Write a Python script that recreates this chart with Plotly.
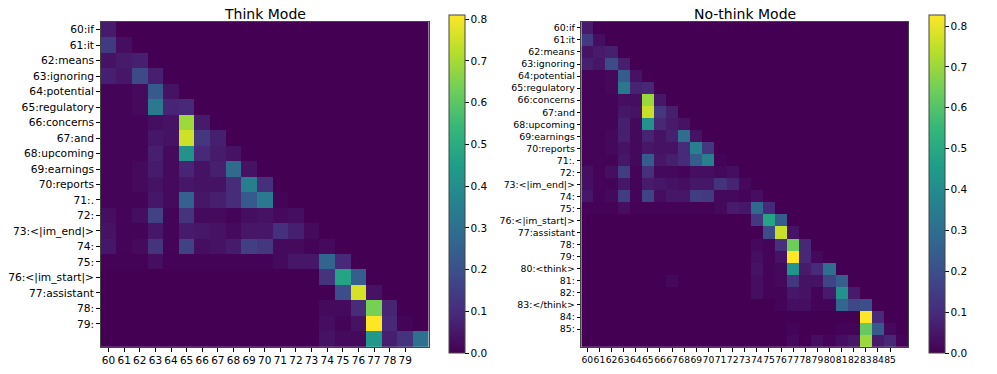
import plotly.graph_objects as go

# token labels on the y axis (query positions)
think_tokens = ["60:if", "61:it", "62:means", "63:ignoring", "64:potential", "65:regulatory",
                "66:concerns", "67:and", "68:upcoming", "69:earnings", "70:reports", "71:.",
                "72:", "73:<|im_end|>", "74:", "75:", "76:<|im_start|>", "77:assistant",
                "78:", "79:"]
nothink_tokens = think_tokens + ["80:<think>", "81:", "82:", "83:</think>", "84:", "85:"]

think_pos = list(range(60, 81))     # 21 positions, last one has no label
nothink_pos = list(range(60, 87))   # 27 positions, last one has no label

# attention weights, row i = positions 60..60+i (lower triangle)
think_rows = [
    [0.06],
    [0.14, 0.03],
    [0.04, 0.06, 0.07],
    [0.07, 0.05, 0.18, 0.07],
    [0.01, 0.01, 0.02, 0.23, 0.04],
    [0.01, 0.01, 0.02, 0.33, 0.08, 0.09],
    [0.01, 0.01, 0.01, 0.03, 0.04, 0.69, 0.06],
    [0.01, 0.01, 0.01, 0.05, 0.04, 0.75, 0.13, 0.07],
    [0.01, 0.01, 0.01, 0.07, 0.02, 0.41, 0.09, 0.06, 0.04],
    [0.01, 0.01, 0.02, 0.06, 0.02, 0.08, 0.04, 0.07, 0.28, 0.04],
    [0.01, 0.01, 0.02, 0.04, 0.02, 0.05, 0.04, 0.04, 0.10, 0.35, 0.11],
    [0.01, 0.01, 0.01, 0.05, 0.02, 0.25, 0.05, 0.07, 0.10, 0.23, 0.33, 0.01],
    [0.03, 0.01, 0.03, 0.16, 0.01, 0.12, 0.02, 0.02, 0.01, 0.03, 0.04, 0.02, 0.03],
    [0.04, 0.01, 0.01, 0.05, 0.01, 0.06, 0.05, 0.04, 0.02, 0.05, 0.05, 0.11, 0.07, 0.02],
    [0.05, 0.01, 0.02, 0.12, 0.01, 0.16, 0.03, 0.04, 0.06, 0.15, 0.13, 0.02, 0.02, 0.01, 0.02],
    [0.005, 0.005, 0.005, 0.03, 0.005, 0.005, 0.005, 0.005, 0.005, 0.005, 0.005, 0.02, 0.05, 0.05, 0.26, 0.09],
    [0, 0, 0, 0, 0, 0, 0, 0, 0, 0, 0, 0, 0, 0, 0.12, 0.47, 0.24],
    [0, 0, 0, 0, 0, 0, 0, 0, 0, 0, 0, 0, 0, 0, 0, 0.19, 0.76, 0.04],
    [0, 0, 0, 0, 0, 0, 0, 0, 0, 0, 0, 0, 0, 0, 0.02, 0.02, 0.10, 0.64, 0.08],
    [0, 0, 0, 0, 0, 0, 0, 0, 0, 0, 0, 0, 0, 0, 0.03, 0.01, 0.04, 0.81, 0.09, 0.01],
    [0, 0, 0, 0, 0, 0, 0, 0, 0, 0, 0, 0, 0, 0, 0.04, 0.02, 0.02, 0.43, 0.07, 0.12, 0.30],
]

nothink_rows = [
    [0.06],
    [0.14, 0.03],
    [0.04, 0.06, 0.07],
    [0.07, 0.05, 0.19, 0.07],
    [0.01, 0.01, 0.02, 0.24, 0.04],
    [0.01, 0.01, 0.02, 0.33, 0.08, 0.09],
    [0.01, 0.01, 0.01, 0.03, 0.03, 0.70, 0.05],
    [0.01, 0.01, 0.01, 0.05, 0.04, 0.76, 0.13, 0.07],
    [0.01, 0.01, 0.01, 0.07, 0.02, 0.42, 0.09, 0.06, 0.04],
    [0.01, 0.01, 0.02, 0.07, 0.02, 0.08, 0.04, 0.07, 0.30, 0.04],
    [0.01, 0.01, 0.02, 0.04, 0.02, 0.05, 0.04, 0.04, 0.10, 0.36, 0.13],
    [0.01, 0.01, 0.01, 0.05, 0.02, 0.24, 0.05, 0.07, 0.10, 0.24, 0.36, 0.01],
    [0.03, 0.01, 0.03, 0.15, 0.01, 0.11, 0.02, 0.02, 0.01, 0.03, 0.03, 0.02, 0.03],
    [0.03, 0.01, 0.01, 0.05, 0.01, 0.06, 0.05, 0.04, 0.03, 0.05, 0.05, 0.12, 0.08, 0.02],
    [0.05, 0.01, 0.02, 0.15, 0.01, 0.17, 0.03, 0.05, 0.05, 0.15, 0.14, 0.02, 0.02, 0.01, 0.03],
    [0.005, 0.005, 0.005, 0.03, 0.005, 0.005, 0.005, 0.005, 0.005, 0.005, 0.005, 0.02, 0.06, 0.05, 0.28, 0.10],
    [0, 0, 0, 0, 0, 0, 0, 0, 0, 0, 0, 0, 0, 0, 0.13, 0.48, 0.24],
    [0, 0, 0, 0, 0, 0, 0, 0, 0, 0, 0, 0, 0, 0, 0, 0.19, 0.76, 0.04],
    [0, 0, 0, 0, 0, 0, 0, 0, 0, 0, 0, 0, 0, 0, 0.02, 0.01, 0.11, 0.64, 0.09],
    [0, 0, 0, 0, 0, 0, 0, 0, 0, 0, 0, 0, 0, 0, 0.03, 0.01, 0.04, 0.83, 0.09, 0.02],
    [0, 0, 0, 0, 0, 0, 0, 0, 0, 0, 0, 0, 0, 0, 0.04, 0.01, 0.02, 0.43, 0.06, 0.10, 0.30],
    [0, 0, 0, 0, 0, 0, 0, 0.02, 0, 0, 0, 0, 0, 0, 0.03, 0.01, 0.02, 0.13, 0.04, 0.04, 0.17, 0.25],
    [0, 0, 0, 0, 0, 0, 0, 0, 0, 0, 0, 0, 0, 0, 0.03, 0.01, 0.01, 0.05, 0.04, 0.01, 0.06, 0.42, 0.06],
    [0, 0, 0, 0, 0, 0, 0, 0, 0, 0, 0, 0, 0, 0, 0, 0, 0.01, 0.03, 0.03, 0.01, 0.01, 0.27, 0.18, 0.20],
    [0, 0, 0, 0, 0, 0, 0, 0, 0, 0, 0, 0, 0, 0, 0, 0, 0, 0, 0, 0, 0, 0, 0, 0.83, 0.10],
    [0, 0, 0, 0, 0, 0, 0, 0, 0, 0, 0, 0, 0, 0, 0, 0, 0, 0.01, 0, 0, 0, 0.01, 0.01, 0.63, 0.23, 0.02],
    [0, 0, 0, 0, 0, 0, 0, 0, 0, 0, 0, 0, 0, 0, 0, 0, 0, 0.02, 0, 0.03, 0.01, 0.03, 0.05, 0.70, 0.06, 0.09, 0.01],
]

think_max = 0.81
nothink_max = 0.827
cbar_ticks = [0.0, 0.1, 0.2, 0.3, 0.4, 0.5, 0.6, 0.7, 0.8]

FONT = "DejaVu Sans"
# the page body has an 8px margin, so the figure is drawn 8px in from the corner
OFF = 8
W, H = 997 - 2 * OFF, 374 - 2 * OFF


def px_x(p):
    return (p - OFF) / W


def px_y(p):
    return 1 - (p - OFF) / H


def pad_square(rows):
    n = len(rows)
    return [r + [0] * (n - len(r)) for r in rows]


def esc(s):
    return s.replace("<", "&lt;").replace(">", "&gt;")


def heat(rows, pos, zmax, xa, ya, cb_x):
    return go.Heatmap(
        z=pad_square(rows), x=pos, y=pos,
        colorscale="Viridis", zmin=0, zmax=zmax,
        xaxis=xa, yaxis=ya,
        colorbar=dict(
            x=px_x(cb_x), xanchor="left", xpad=0, ypad=0,
            y=px_y(186), yanchor="middle",
            lenmode="pixels", len=338, thickness=16,
            outlinewidth=1, outlinecolor="#444",
            ticks="outside", ticklen=3.5, tickcolor="black",
            tickvals=cbar_ticks, tickformat=".1f",
            tickfont=dict(family=FONT, size=10.5, color="black"),
        ),
    )


fig = go.Figure()
fig.add_trace(heat(think_rows, think_pos, think_max, "x", "y", 447))
fig.add_trace(heat(nothink_rows, nothink_pos, nothink_max, "x2", "y2", 929))

ydom = [px_y(351), px_y(22)]


def axis_style(dom, rng, vals, text, size):
    return dict(
        domain=dom, range=rng, tickmode="array", tickvals=vals, ticktext=text,
        ticks="outside", ticklen=3.5, tickcolor="black", tickwidth=1,
        showline=True, mirror=True, linecolor="#444", linewidth=1,
        showgrid=False, zeroline=False, tickangle=0,
        tickfont=dict(family=FONT, size=size, color="black"),
    )


def title(text, cx):
    return dict(text=text, x=px_x(cx), y=px_y(14), xref="paper", yref="paper",
                showarrow=False, xanchor="center", yanchor="middle",
                height=12, valign="middle",
                font=dict(family=FONT, size=14, color="black"))


fig.update_layout(
    width=W, height=H,
    margin=dict(l=0, r=0, t=0, b=0),
    paper_bgcolor="white", plot_bgcolor="white",
    font=dict(family=FONT, color="black"),
    xaxis=dict(axis_style([px_x(98), px_x(427)], [59.5, 80.5], think_pos[:-1],
                          [str(p) for p in think_pos[:-1]], 10.5), anchor="y"),
    yaxis=dict(axis_style(ydom, [80.5, 59.5], think_pos[:-1],
                          [esc(t) for t in think_tokens], 10.7), anchor="x"),
    xaxis2=dict(axis_style([px_x(580), px_x(908)], [59.5, 86.5], nothink_pos[:-1],
                           [str(p) for p in nothink_pos[:-1]], 9.2), anchor="y2"),
    yaxis2=dict(axis_style(ydom, [86.5, 59.5], nothink_pos[:-1],
                           [esc(t) for t in nothink_tokens], 9.4), anchor="x2"),
    annotations=[
        title("Think Mode", (98 + 427) / 2),
        title("No-think Mode", (580 + 908) / 2),
    ],
)

fig.write_html("out.html")
